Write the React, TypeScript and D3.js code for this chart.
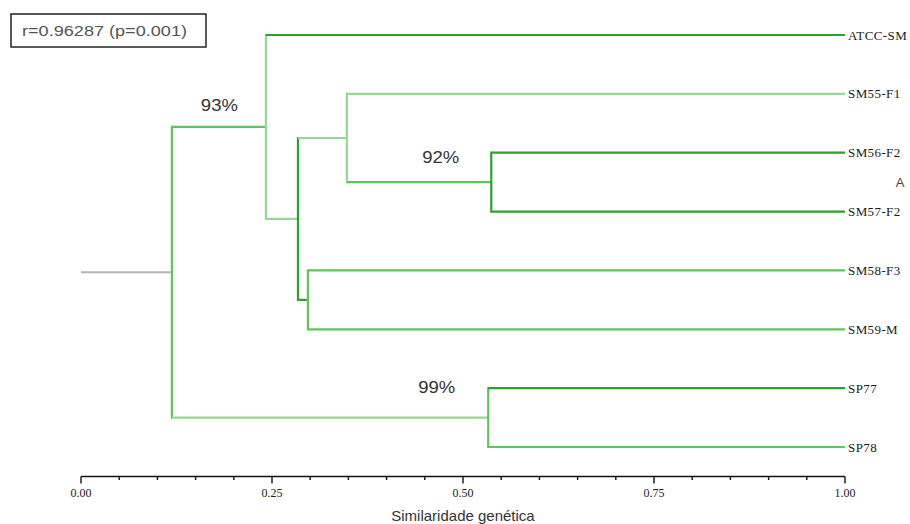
import React from "react";
import * as d3 from "d3";

// ---- data ----
const leafNames = ["ATCC-SM", "SM55-F1", "SM56-F2", "SM57-F2", "SM58-F3", "SM59-M", "SP77", "SP78"];
const clusterIds = ["R", "A", "B", "C", "D", "E", "F"];
const clusterSimilarity = [0.119, 0.242, 0.284, 0.348, 0.537, 0.297, 0.533];
const clusterChildren = [
  ["A", "F"],
  ["ATCC-SM", "B"],
  ["C", "E"],
  ["SM55-F1", "D"],
  ["SM56-F2", "SM57-F2"],
  ["SM58-F3", "SM59-M"],
  ["SP77", "SP78"],
];
const supportNodes = ["A", "D", "F"];
const supportLabels = ["93%", "92%", "99%"];
const majorTicks = [0, 0.25, 0.5, 0.75, 1];
const minorTicks = d3.range(0, 1.0001, 0.05);
const statText = "r=0.96287 (p=0.001)";
const axisTitle = "Similaridade genética";
const panelLetter = "A";

// ---- styles ----
const DARK = "#2f9f2f";
const MID = "#5ec45e";
const LIGHT = "#95d795";
const branchColor: Record<string, string> = {
  A: MID, F: LIGHT, "ATCC-SM": DARK, B: LIGHT, C: LIGHT, E: DARK,
  "SM55-F1": LIGHT, D: MID, "SM56-F2": DARK, "SM57-F2": DARK,
  "SM58-F3": MID, "SM59-M": MID, SP77: DARK, SP78: MID,
};
const vertColor: Record<string, string> = {
  R: MID, A: LIGHT, B: DARK, C: LIGHT, D: DARK, E: MID, F: MID,
};
const supportOffset: Record<string, { dx: number; dy: number }> = {
  A: { dx: -28, dy: -16 },
  D: { dx: -32, dy: -19 },
  F: { dx: -33, dy: -25 },
};

type N = { id: string; sim: number; children?: N[] };

function buildTree(): N {
  const build = (id: string): N => {
    const i = clusterIds.indexOf(id);
    if (i < 0) return { id, sim: 1 };
    return { id, sim: clusterSimilarity[i], children: clusterChildren[i].map(build) };
  };
  return build("R");
}

const SANS = "Arial, 'Liberation Sans', sans-serif";
const SERIF = "'Liberation Serif', 'Times New Roman', serif";

export default function App() {
  const W = 910, H = 524;
  const x = d3.scaleLinear().domain([0, 1]).range([81, 845]);
  const y = d3.scalePoint<string>().domain(leafNames).range([35, 447]);
  const root = d3.hierarchy<N>(buildTree());

  const yPos = new Map<string, number>();
  root.eachAfter((n) => {
    if (!n.children) yPos.set(n.data.id, y(n.data.id) as number);
    else yPos.set(n.data.id, d3.mean(n.children, (c) => yPos.get(c.data.id)!) as number);
  });

  const segs: JSX.Element[] = [];
  root.each((n) => {
    const ny = yPos.get(n.data.id)!;
    const nx = x(n.data.sim);
    if (n.parent) {
      segs.push(
        <line key={"h" + n.data.id} x1={x(n.parent.data.sim)} x2={nx} y1={ny} y2={ny}
          stroke={branchColor[n.data.id]} strokeWidth={2.2} />
      );
    } else {
      segs.push(
        <line key="stem" x1={x(0)} x2={nx} y1={ny} y2={ny} stroke="#b4b4b4" strokeWidth={2} />
      );
    }
    if (n.children) {
      const ys = n.children.map((c) => yPos.get(c.data.id)!);
      segs.push(
        <line key={"v" + n.data.id} x1={nx} x2={nx} y1={d3.min(ys)! - 1.1} y2={d3.max(ys)! + 1.1}
          stroke={vertColor[n.data.id]} strokeWidth={2.2} />
      );
    }
  });

  const axisY = 476.5;

  return (
    <svg width={W} height={H} style={{ position: "absolute", left: 0, top: 0, background: "#fff" }}>
      <rect x={11} y={14} width={195} height={33} fill="none" stroke="#222" strokeWidth={1.5} />
      <text x={22} y={36} fontFamily={SANS} fontSize={14} fill="#555"
        textLength={165} lengthAdjust="spacingAndGlyphs">
        {statText}
      </text>
      {segs}
      {leafNames.map((l) => (
        <text key={l} x={x(1) + 3} y={(y(l) as number) + 4.5} fontFamily={SERIF}
          fontSize={13} letterSpacing={0.4} fill="#1a1a1a">{l}</text>
      ))}
      {supportNodes.map((id, i) => {
        const n = root.descendants().find((d) => d.data.id === id)!;
        const off = supportOffset[id];
        const xe = x(n.data.sim) + off.dx;
        return (
          <text key={id} x={xe - 37} y={yPos.get(id)! + off.dy}
            fontFamily={SANS} fontSize={16} fill="#333"
            textLength={37} lengthAdjust="spacingAndGlyphs">
            {supportLabels[i]}
          </text>
        );
      })}
      <text x={900} y={187} textAnchor="middle" fontFamily={SANS}
        fontSize={13} fill="#444">{panelLetter}</text>
      <g>
        <line x1={x(0)} x2={x(1)} y1={axisY} y2={axisY} stroke="#111" strokeWidth={1.4} />
        {minorTicks.map((t, i) => {
          const major = majorTicks.some((m) => Math.abs(m - t) < 1e-6);
          return (
            <line key={i} x1={x(t)} x2={x(t)} y1={axisY} y2={axisY + (major ? 7 : 3.5)}
              stroke="#111" strokeWidth={1.4} />
          );
        })}
        {majorTicks.map((t) => (
          <text key={t} x={x(t)} y={497} textAnchor="middle" fontFamily={SERIF}
            fontSize={12} fill="#222">{d3.format(".2f")(t)}</text>
        ))}
      </g>
      <text x={463} y={521} textAnchor="middle" fontFamily={SANS}
        fontSize={15} fill="#333">{axisTitle}</text>
    </svg>
  );
}
